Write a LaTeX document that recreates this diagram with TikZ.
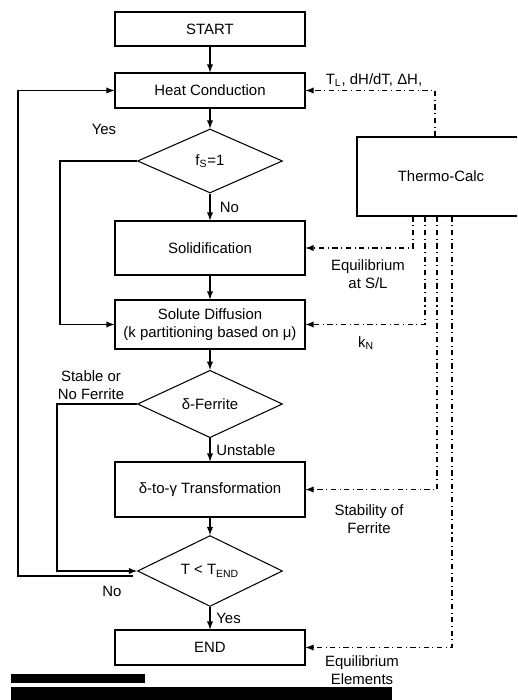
\documentclass[tikz,border=0pt]{standalone}
\usepackage{fontspec}
\setmainfont{Liberation Sans}
\usetikzlibrary{calc,arrows,shapes.geometric}

\tikzset{
  box/.style={draw,rectangle,minimum width=38mm,inner sep=0pt},
  test/.style={draw,diamond,minimum width=29mm,minimum height=12.8mm,inner sep=0pt},
  flow/.style={-latex},
  feed/.style={dash dot,-latex}
}

\begin{document}
\begin{tikzpicture}[x=0.2mm,y=-0.2mm,line width=0.6pt,font=\fontsize{8.5}{10}\selectfont]
\useasboundingbox (0,0) rectangle (517,700);
\clip (0,0) rectangle (517,700);

% main column
\node[box,minimum height=6.8mm] (start) at (210,29) {START};
\node[box,minimum height=7mm] (heat) at (210,90.5) {Heat Conduction};
\node[test] (fs) at (210,161) {f\textsubscript{S}=1};
\node[box,minimum height=10.8mm] (solid) at (210,248) {Solidification};
\node[box,minimum height=9.8mm,align=center] (diff) at (210,324.5) {Solute Diffusion\\(k partitioning based on μ)};
\node[test] (ferr) at (210,404) {δ-Ferrite};
\node[box,minimum height=11mm] (trans) at (210,489.5) {δ-to-γ Transformation};
\node[test,minimum height=13.6mm] (tend) at (210,571) {T < T\textsubscript{END}};
\node[box,minimum height=7mm] (stop) at (210,647.5) {END};

% database box, runs off the right edge
\node[box,minimum width=33.6mm,minimum height=15.8mm] (tc) at (441,176.5) {Thermo-Calc};

\draw[flow] (start) -- (heat);
\draw[flow] (heat) -- (fs);
\draw[flow] (fs) -- node[right,xshift=2pt]{No} (solid);
\draw[flow] (solid) -- (diff);
\draw[flow] (diff) -- (ferr);
\draw[flow] (ferr) -- node[right]{Unstable} (trans);
\draw[flow] (trans) -- (tend);
\draw[flow] (tend) -- node[right]{Yes} (stop);

% loops on the left
\draw[flow] (fs.west) -- (60,161) |- (diff.west);
\node (yes1) at (104,129) {Yes};
\draw[flow] (ferr.west) -- (57,404) |- (tend.west);
\node[align=center] (stab) at (91,385) {Stable or\\No Ferrite};
\coordinate (noout) at ($(tend.west)+(-4,5)$);
\draw[flow] (noout) -| (18,90.5) -- (heat.west);
\node (no2) at (112,591) {No};

% data from Thermo-Calc
\draw[feed] ($(tc.north)+(-6,0)$) |- (heat.east);
\node (tl) at (374,80) {T\textsubscript{L}, dH/dT, ΔH,};
\foreach \dx/\target in {-28/solid,-16/diff,-4/trans,11/stop}
  \draw[feed] ($(tc.south)+(\dx,0)$) |- (\target.east);
\node[align=center] (eqsl) at (368,274) {Equilibrium\\at S/L};
\node (kn) at (366,343) {k\textsubscript{N}};
\node[align=center] (stf) at (369,519) {Stability of\\Ferrite};
\node[align=center] (eqel) at (362,670) {Equilibrium\\Elements};

\fill (11,674) rectangle (145,683);
\fill (11,687) rectangle (392,700);
\end{tikzpicture}
\end{document}
